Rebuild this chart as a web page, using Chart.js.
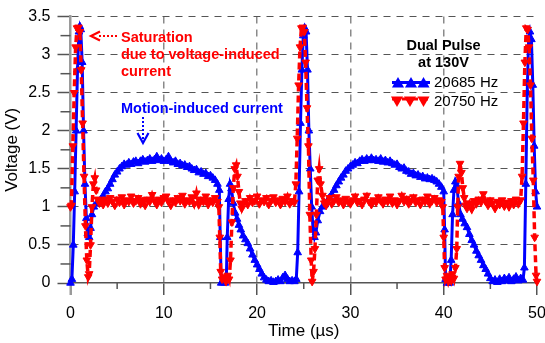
<!DOCTYPE html>
<html>
<head>
<meta charset="utf-8">
<script src="https://cdn.jsdelivr.net/npm/chart.js@4.4.0/dist/chart.umd.min.js"></script>
<style>
  html, body { margin: 0; padding: 0; background: #fff; }
  #wrap { width: 545px; height: 343px; }
</style>
</head>
<body>
<div id="wrap"><canvas id="chart" width="545" height="343"></canvas></div>
<script>
// --- values ---
const t20685 = [0, 0.15, 0.3, 0.45, 0.6, 0.75, 0.9, 1.0, 1.1, 1.25, 1.4, 1.55, 1.7, 1.85, 2.0, 2.15, 2.3, 2.5, 2.75,
  3.0, 3.25, 3.5, 3.75, 4.0, 4.25, 4.5, 4.75, 5.0, 5.25, 5.5, 5.75, 6.0, 6.25, 6.5, 6.75, 7.0, 7.25, 7.5, 7.75,
  8.0, 8.25, 8.5, 8.75, 9.0, 9.25, 9.5, 9.75, 10.0, 10.25, 10.5, 10.75, 11.0, 11.25, 11.5, 11.75, 12.0, 12.25,
  12.5, 12.75, 13.0, 13.25, 13.5, 13.75, 14.0, 14.25, 14.5, 14.75, 15.0, 15.25, 15.5, 15.75, 15.95, 16.05, 16.15,
  16.35, 16.55, 16.7, 16.8, 16.95, 17.1, 17.25, 17.45, 17.65, 17.85, 18.05, 18.25, 18.5, 18.75, 19.0, 19.25, 19.5,
  19.75, 20.0, 20.25, 20.5, 20.75, 21.0, 21.25, 21.5, 21.75, 22.0, 22.25, 22.5, 22.75, 23.0, 23.25, 23.5, 23.75,
  24.0, 24.2, 24.35, 24.5, 24.65, 24.8, 24.95, 25.1, 25.25, 25.4, 25.55, 25.7, 25.85, 26.0, 26.15, 26.3, 26.5,
  26.75, 27.0, 27.25, 27.5, 27.75, 28.0, 28.25, 28.5, 28.75, 29.0, 29.25, 29.5, 29.75, 30.0, 30.25, 30.5, 30.75,
  31.0, 31.25, 31.5, 31.75, 32.0, 32.25, 32.5, 32.75, 33.0, 33.25, 33.5, 33.75, 34.0, 34.25, 34.5, 34.75, 35.0,
  35.25, 35.5, 35.75, 36.0, 36.25, 36.5, 36.75, 37.0, 37.25, 37.5, 37.75, 38.0, 38.25, 38.5, 38.75, 39.0, 39.25,
  39.5, 39.75, 40.0, 40.1, 40.2, 40.35, 40.5, 40.65, 40.8, 40.95, 41.1, 41.25, 41.4, 41.6, 41.8, 42.0, 42.25,
  42.5, 42.75, 43.0, 43.25, 43.5, 43.75, 44.0, 44.25, 44.5, 44.75, 45.0, 45.25, 45.5, 45.75, 46.0, 46.25, 46.5,
  46.75, 47.0, 47.25, 47.5, 47.75, 48.0, 48.25, 48.5, 48.65, 48.8, 48.95, 49.1, 49.25, 49.4, 49.55, 49.7, 49.85, 50.0];
const v20685 = [0.00, 0.05, 0.5, 1.2, 2.0, 2.8, 3.3, 3.37, 3.33, 2.9, 2.0, 1.3, 0.85, 0.65, 0.6, 0.72, 0.9, 1.0, 1.04,
  1.06, 1.1, 1.14, 1.2, 1.24, 1.3, 1.36, 1.42, 1.46, 1.5, 1.53, 1.56, 1.55, 1.58, 1.56, 1.59, 1.6, 1.57, 1.6, 1.62,
  1.59, 1.61, 1.63, 1.6, 1.62, 1.66, 1.61, 1.63, 1.6, 1.62, 1.66, 1.6, 1.58, 1.6, 1.56, 1.57, 1.54, 1.55,
  1.52, 1.53, 1.5, 1.48, 1.49, 1.45, 1.46, 1.43, 1.44, 1.4, 1.41, 1.38, 1.35, 1.3, 1.22, 0.6, 0.0,
  0.02, 0.0, 0.03, 0.6, 1.1, 1.3, 1.24, 1.05, 0.92, 0.84, 0.76, 0.7, 0.62, 0.57, 0.52, 0.45, 0.37,
  0.3, 0.24, 0.18, 0.12, 0.07, 0.04, 0.02, 0.03, 0.01, 0.02, 0.04, 0.02, 0.07, 0.1, 0.05, 0.02, 0.03,
  0.02, 0.05, 0.4, 1.2, 2.1, 2.8, 3.25, 3.35, 3.3, 2.8, 2.0, 1.5, 1.0, 0.7, 0.6, 0.66, 0.82,
  0.94, 1.0, 1.03, 1.06, 1.12, 1.16, 1.22, 1.28, 1.33, 1.38, 1.42, 1.47, 1.5, 1.53, 1.55, 1.58, 1.57,
  1.6, 1.62, 1.6, 1.63, 1.61, 1.64, 1.61, 1.62, 1.6, 1.63, 1.59, 1.61, 1.58, 1.6, 1.57, 1.55, 1.56,
  1.52, 1.5, 1.51, 1.47, 1.46, 1.43, 1.44, 1.41, 1.42, 1.39, 1.4, 1.37, 1.38, 1.36, 1.37, 1.35, 1.33,
  1.3, 1.26, 1.2, 0.7, 0.05, 0.0, 0.02, 0.0, 0.3, 0.9, 1.22, 1.33, 1.28, 1.05, 0.9, 0.84, 0.78,
  0.73, 0.64, 0.56, 0.5, 0.42, 0.36, 0.3, 0.23, 0.18, 0.12, 0.06, 0.02, 0.04, 0.01, 0.05, 0.02, 0.06,
  0.03, 0.07, 0.02, 0.05, 0.08, 0.03, 0.06, 0.04, 0.2, 1.3, 2.5, 3.2, 3.3, 3.2, 2.6, 1.8, 1.2, 1.0];

const t20750 = [0, 0.1, 0.25, 0.4, 0.55, 0.7, 0.85, 1.0, 1.15, 1.3, 1.45, 1.6, 1.75, 1.9, 2.0, 2.15, 2.3, 2.45, 2.6,
  2.75, 2.9, 3.1, 3.25, 3.5, 3.75, 4.0, 4.25, 4.5, 4.75, 5.0, 5.25, 5.5, 5.75, 6.0, 6.25, 6.5, 6.75, 7.0, 7.25,
  7.5, 7.75, 8.0, 8.25, 8.5, 8.75, 9.0, 9.25, 9.5, 9.75, 10.0, 10.25, 10.5, 10.75, 11.0, 11.25, 11.5, 11.75, 12.0,
  12.25, 12.5, 12.75, 13.0, 13.25, 13.5, 13.75, 14.0, 14.25, 14.5, 14.75, 15.0, 15.25, 15.5, 15.75, 15.9, 16.0,
  16.1, 16.25, 16.45, 16.65, 16.85, 17.0, 17.15, 17.3, 17.45, 17.6, 17.75, 17.9, 18.05, 18.2, 18.35, 18.5, 18.75,
  19.0, 19.25, 19.5, 19.75, 20.0, 20.25, 20.5, 20.75, 21.0, 21.25, 21.5, 21.75, 22.0, 22.25, 22.5, 22.75, 23.0,
  23.25, 23.5, 23.75, 24.0, 24.15, 24.3, 24.45, 24.6, 24.75, 24.9, 25.05, 25.2, 25.35, 25.5, 25.65, 25.8, 25.9,
  26.05, 26.2, 26.35, 26.5, 26.65, 26.8, 27.0, 27.2, 27.4, 27.5, 27.75, 28.0, 28.25, 28.5, 28.75, 29.0, 29.25,
  29.5, 29.75, 30.0, 30.25, 30.5, 30.75, 31.0, 31.25, 31.5, 31.75, 32.0, 32.25, 32.5, 32.75, 33.0, 33.25, 33.5,
  33.75, 34.0, 34.25, 34.5, 34.75, 35.0, 35.25, 35.5, 35.75, 36.0, 36.25, 36.5, 36.75, 37.0, 37.25, 37.5, 37.75,
  38.0, 38.25, 38.5, 38.75, 39.0, 39.25, 39.5, 39.75, 39.9, 40.0, 40.1, 40.2, 40.35, 40.5, 40.65, 40.8, 40.95,
  41.1, 41.25, 41.4, 41.5, 41.6, 41.75, 41.9, 42.05, 42.2, 42.35, 42.5, 42.75, 43.0, 43.25, 43.5, 43.75, 44.0,
  44.25, 44.5, 44.75, 45.0, 45.25, 45.5, 45.75, 46.0, 46.25, 46.5, 46.75, 47.0, 47.25, 47.5, 47.75, 48.0, 48.25,
  48.4, 48.55, 48.7, 48.85, 49.0, 49.15, 49.3, 49.45, 49.6, 49.75, 49.9, 50.0];
const v20750 = [1.0, 1.02, 1.8, 2.5, 3.1, 3.35, 3.36, 3.3, 2.8, 2.1, 1.4, 0.75, 0.3, 0.08, 0.12, 0.5, 1.0, 1.3, 1.38,
  1.22, 1.1, 1.05, 1.08, 1.03, 1.1, 1.05, 1.12, 1.07, 1.02, 1.1, 1.06, 1.13, 1.03, 1.09, 1.07, 1.14, 1.05, 1.08, 1.12,
  1.04, 1.09, 1.02, 1.1, 1.07, 1.16, 1.08, 1.03, 1.1, 1.06, 1.12, 1.14, 1.07, 1.02, 1.09, 1.06, 1.12, 1.08, 1.15,
  1.04, 1.09, 1.07, 1.13, 1.04, 1.18, 1.03, 1.1, 1.07, 1.14, 1.03, 1.09, 1.06, 1.12, 1.07, 1.0, 0.6,
  0.15, 0.05, 0.08, 0.02, 0.1, 0.05, 0.3, 0.8, 1.25, 1.5, 1.55, 1.4, 1.2, 1.05, 0.98, 1.04, 1.08,
  1.03, 1.12, 1.06, 1.08, 1.14, 1.04, 1.09, 1.07, 1.12, 1.03, 1.08, 1.13, 1.06, 1.09, 1.03, 1.11, 1.07,
  1.14, 1.04, 1.08, 1.06, 1.3, 1.9, 2.6, 3.1, 3.35, 3.36, 3.3, 2.9, 2.3, 1.8, 0.9, 0.3, 0.02,
  0.15, 0.45, 0.9, 1.35, 1.5, 1.3, 1.15, 1.05, 1.02, 1.07, 1.12, 1.04, 1.08, 1.13, 1.06, 1.09, 1.03,
  1.11, 1.07, 1.04, 1.09, 1.14, 1.06, 1.08, 1.03, 1.1, 1.15, 1.07, 1.03, 1.09, 1.06, 1.13, 1.08, 1.04,
  1.1, 1.07, 1.14, 1.05, 1.09, 1.03, 1.08, 1.15, 1.07, 1.11, 1.04, 1.08, 1.13, 1.06, 1.09, 1.03, 1.1,
  1.07, 1.14, 1.04, 1.08, 1.12, 1.06, 1.09, 1.07, 1.0, 0.6, 0.2, 0.05, 0.1, 0.02, 0.08, 0.03, 0.12,
  0.06, 0.2, 0.45, 1.0, 1.4, 1.57, 1.45, 1.25, 1.12, 1.02, 0.98, 1.05, 0.97, 1.08, 1.04, 1.1, 1.06,
  1.17, 1.07, 1.02, 1.09, 1.05, 0.98, 1.07, 1.03, 1.09, 1.01, 1.06, 1.0, 1.08, 1.03, 1.1, 1.04, 1.09,
  1.4, 2.1, 2.9, 3.35, 3.33, 3.1, 2.6, 1.9, 1.35, 0.6, 0.1, 0.02];

const seriesNames = ['20685 Hz', '20750 Hz'];
const xMinorTicks = [5, 15, 25, 35, 45];
const yMinorTicks = [0.25, 0.75, 1.25, 1.75, 2.25, 2.75, 3.25];
const saturationNote = ['Saturation', 'due to voltage-induced', 'current'];
const motionNote = 'Motion-induced current';
const legendTitle = ['Dual Pulse', 'at 130V'];

const FONT = '"Liberation Sans", Arial, sans-serif';
Chart.defaults.font.family = FONT;
Chart.defaults.font.size = 16;
Chart.defaults.color = '#000';

function tri(c, x, y, r, down) {
    const s = down ? -1 : 1;
    c.beginPath();
    c.moveTo(x, y - s * r);
    c.lineTo(x + r * 0.866, y + s * r * 0.5);
    c.lineTo(x - r * 0.866, y + s * r * 0.5);
    c.closePath();
    c.fill();
}

const overlay = {
    id: 'overlay',
    beforeDatasetsDraw(chart) {
        const c = chart.ctx, xs = chart.scales.x, ys = chart.scales.y;
        c.save();
        c.strokeStyle = '#555';
        c.lineWidth = 1.5;
        yMinorTicks.forEach(v => {
            const py = ys.getPixelForValue(v);
            c.beginPath(); c.moveTo(xs.left - 10, py); c.lineTo(xs.left, py); c.stroke();
        });
        xMinorTicks.forEach(v => {
            const px = xs.getPixelForValue(v);
            c.beginPath(); c.moveTo(px, ys.bottom); c.lineTo(px, ys.bottom + 6); c.stroke();
        });
        c.restore();
    },
    afterDraw(chart) {
        const c = chart.ctx;
        c.save();
        c.textAlign = 'left';
        c.textBaseline = 'alphabetic';
        c.font = 'bold 14.5px ' + FONT;

        // red note + arrow to the saturation peak
        c.fillStyle = '#ff0000';
        saturationNote.forEach((s, i) => c.fillText(s, 121, 42 + i * 17));
        c.strokeStyle = '#ff0000';
        c.lineWidth = 2;
        c.setLineDash([2, 2]);
        c.beginPath(); c.moveTo(117, 36); c.lineTo(99, 36); c.stroke();
        c.setLineDash([]);
        c.lineWidth = 2.2;
        c.beginPath(); c.moveTo(100, 31.5); c.lineTo(91, 36); c.lineTo(100, 40.5); c.stroke();

        // blue note + arrow down
        c.fillStyle = '#0000ff';
        c.fillText(motionNote, 121, 113);
        c.strokeStyle = '#0000ff';
        c.lineWidth = 2;
        c.setLineDash([2, 2]);
        c.beginPath(); c.moveTo(143, 117); c.lineTo(143, 141); c.stroke();
        c.setLineDash([]);
        c.lineWidth = 2.2;
        c.beginPath(); c.moveTo(137.5, 133); c.lineTo(143, 143); c.lineTo(148.5, 133); c.stroke();

        // legend
        c.fillStyle = '#000';
        c.textAlign = 'center';
        legendTitle.forEach((s, i) => c.fillText(s, 443.5, 50 + i * 17));
        c.textAlign = 'left';
        c.font = '15px ' + FONT;
        c.fillText(seriesNames[0], 434, 87);
        c.fillText(seriesNames[1], 434, 106);

        c.strokeStyle = '#0000ff'; c.fillStyle = '#0000ff'; c.lineWidth = 3;
        c.beginPath(); c.moveTo(392, 82.5); c.lineTo(430, 82.5); c.stroke();
        [398, 411, 423.5].forEach(px => tri(c, px, 84, 7, false));

        c.strokeStyle = '#ff0000'; c.fillStyle = '#ff0000'; c.lineWidth = 3;
        c.setLineDash([6, 4]);
        c.beginPath(); c.moveTo(392, 99); c.lineTo(430, 99); c.stroke();
        c.setLineDash([]);
        [397, 410, 423.5].forEach(px => tri(c, px, 100, 7, true));
        c.restore();
    }
};

const blueData = t20685.map((t, i) => ({ x: t, y: v20685[i] }));
const redData = t20750.map((t, i) => ({ x: t, y: v20750[i] }));

const transparent = 'rgba(0,0,0,0)';

new Chart(document.getElementById('chart'), {
    type: 'line',
    data: {
        datasets: [
            {
                label: seriesNames[1],
                data: redData,
                order: 0,
                borderColor: '#ff0000',
                backgroundColor: '#ff0000',
                borderWidth: 3.5,
                borderDash: [7, 4],
                pointStyle: 'triangle',
                pointRotation: 180,
                pointRadius: 4.4,
                pointBorderWidth: 1,
                pointBackgroundColor: '#ff0000',
                pointBorderColor: '#ff0000',
                tension: 0,
                clip: false
            },
            {
                label: seriesNames[0],
                data: blueData,
                order: 1,
                borderColor: '#0000ff',
                backgroundColor: '#0000ff',
                borderWidth: 3,
                pointStyle: 'triangle',
                pointRadius: 4.4,
                pointBorderWidth: 1,
                pointBackgroundColor: '#0000ff',
                pointBorderColor: '#0000ff',
                tension: 0,
                clip: false
            }
        ]
    },
    options: {
        responsive: false,
        animation: false,
        devicePixelRatio: 1,
        layout: { padding: { left: 0, top: 16, right: 8, bottom: 0 } },
        plugins: { legend: { display: false }, tooltip: { enabled: false } },
        scales: {
            x: {
                type: 'linear',
                min: 0, max: 50,
                afterFit: s => { s.height = 60; s.paddingLeft = 0; s.paddingRight = 0; },
                ticks: { stepSize: 10, padding: 9, maxRotation: 0, font: { size: 16 } },
                grid: {
                    color: ctx => (ctx.tick && (ctx.tick.value === 0 || ctx.tick.value === 50)) ? transparent : '#8a8a8a',
                    lineWidth: 1.5,
                    tickLength: 12,
                    tickColor: ctx => (ctx.tick && ctx.tick.value === 0) ? '#9a9a9a' : '#555',
                    tickWidth: ctx => (ctx.tick && ctx.tick.value === 0) ? 2.5 : 1.5,
                    borderDash: [7, 6]
                },
                border: { color: '#555', width: 1.5, dash: [7, 6] },
                title: { display: true, text: 'Time (µs)', font: { size: 17 }, padding: { top: 2, bottom: 1 } }
            },
            y: {
                min: 0, max: 3.5,
                afterFit: s => { s.width = 70.5; },
                ticks: { stepSize: 0.5, padding: 7, font: { size: 16 }, callback: v => String(v) },
                grid: {
                    color: ctx => (ctx.tick && ctx.tick.value === 0) ? transparent : '#555',
                    lineWidth: 1,
                    tickLength: 13,
                    tickColor: '#555',
                    tickWidth: 1.5,
                    borderDash: [7, 6]
                },
                border: { color: '#9a9a9a', width: 2.5, dash: [7, 6] },
                title: { display: true, text: 'Voltage (V)', font: { size: 17 }, padding: { top: 2, bottom: 2 } }
            }
        }
    },
    plugins: [overlay]
});
</script>
</body>
</html>
